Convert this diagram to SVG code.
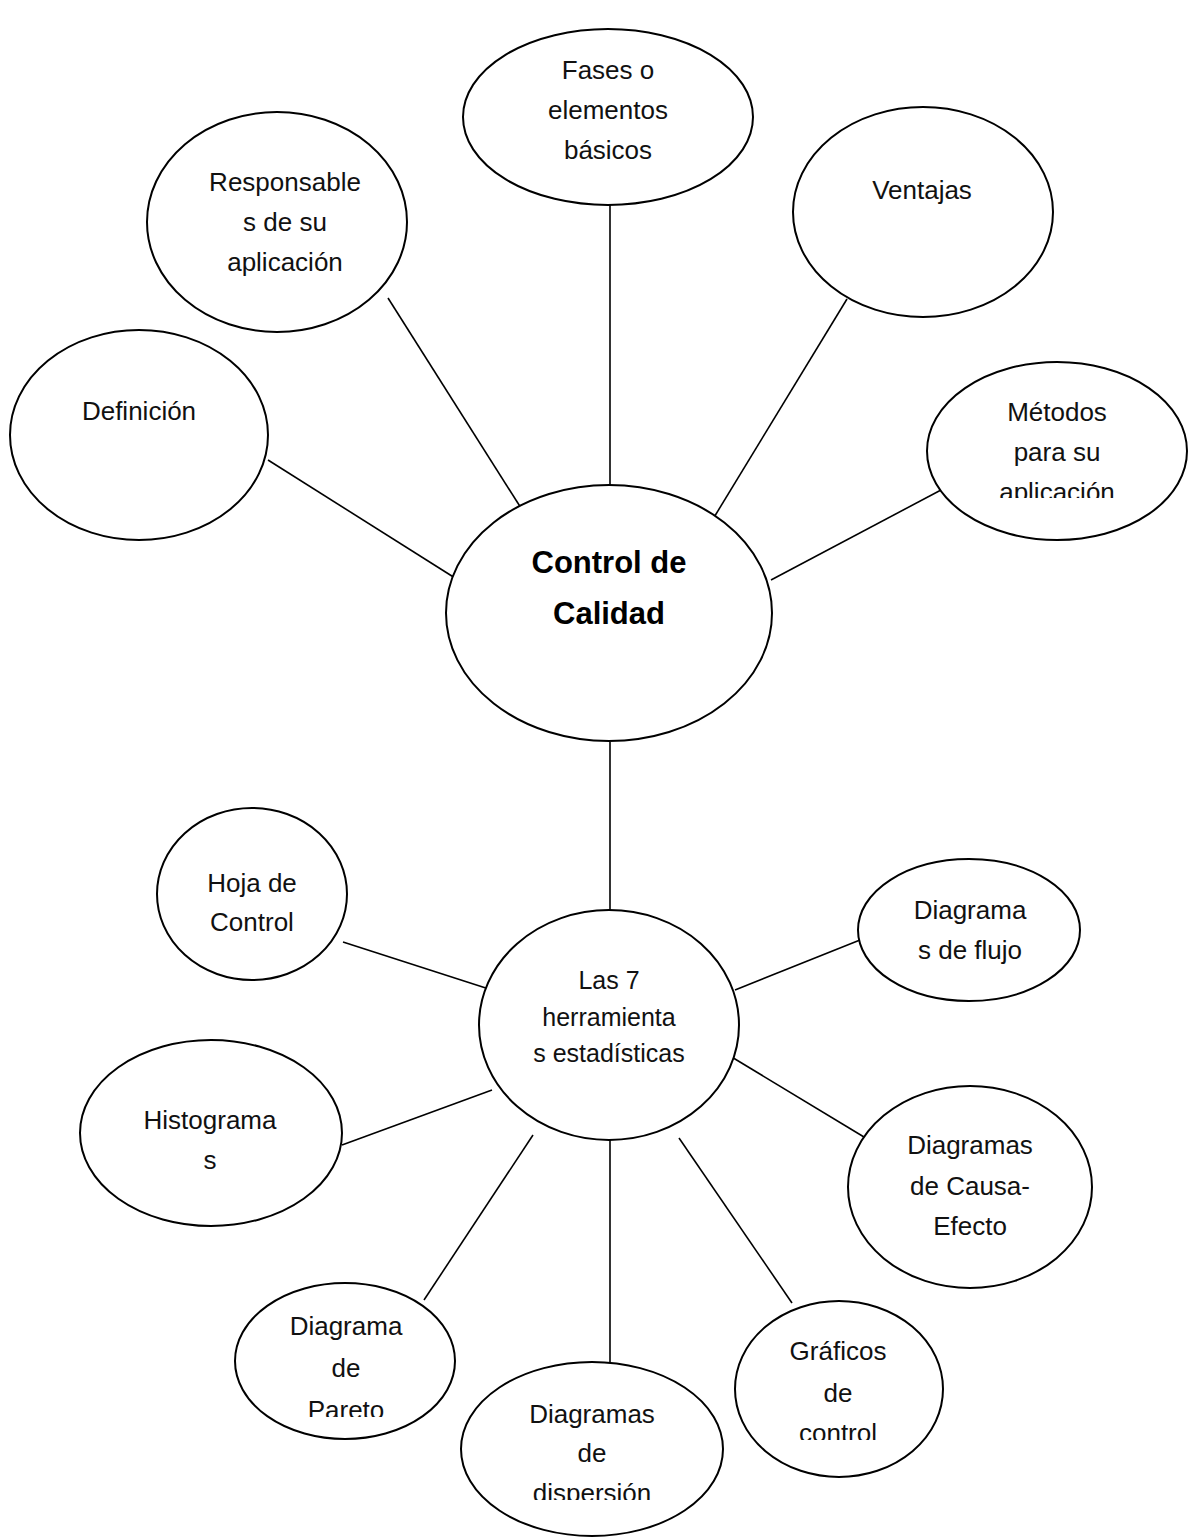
<svg xmlns="http://www.w3.org/2000/svg" width="1192" height="1537" viewBox="0 0 1192 1537">
<style>
  .n { fill: #fff; stroke: #000; stroke-width: 2; }
  .c { stroke: #000; stroke-width: 1.6; fill: none; }
  .t { font-family: "Liberation Sans", Arial, sans-serif; font-size: 26px; fill: #111; text-anchor: middle; }
  .s { font-size: 25px; }
  .b { font-family: "Liberation Sans", Arial, sans-serif; font-size: 31px; font-weight: bold; fill: #000; text-anchor: middle; }
</style>
<defs>
  <clipPath id="clipMet"><rect x="900" y="340" width="292" height="158"/></clipPath>
  <clipPath id="clipPar"><rect x="220" y="1270" width="260" height="147"/></clipPath>
  <clipPath id="clipDis"><rect x="450" y="1350" width="290" height="150"/></clipPath>
  <clipPath id="clipGra"><rect x="720" y="1290" width="240" height="150"/></clipPath>
</defs>
<rect width="1192" height="1537" fill="#fff"/>
<g id="connectors">
  <line class="c" x1="268" y1="460" x2="455" y2="578"/>
  <line class="c" x1="388" y1="298" x2="521" y2="508"/>
  <line class="c" x1="610" y1="205" x2="610" y2="493"/>
  <line class="c" x1="847" y1="299" x2="713" y2="519"/>
  <line class="c" x1="941" y1="490" x2="771" y2="580"/>
  <line class="c" x1="610" y1="742" x2="610" y2="917"/>
  <line class="c" x1="343" y1="942" x2="492" y2="990"/>
  <line class="c" x1="735" y1="990" x2="860" y2="940"/>
  <line class="c" x1="342" y1="1145" x2="492" y2="1090"/>
  <line class="c" x1="730" y1="1056" x2="864" y2="1137"/>
  <line class="c" x1="424" y1="1300" x2="533" y2="1135"/>
  <line class="c" x1="610" y1="1140" x2="610" y2="1387"/>
  <line class="c" x1="679" y1="1138" x2="792" y2="1303"/>
</g>
<g id="fases">
  <ellipse class="n" cx="608" cy="117" rx="145" ry="88"/>
  <text class="t" x="608" y="79">Fases o</text>
  <text class="t" x="608" y="119">elementos</text>
  <text class="t" x="608" y="159">básicos</text>
</g>
<g id="responsables">
  <ellipse class="n" cx="277" cy="222" rx="130" ry="110"/>
  <text class="t" x="285" y="191">Responsable</text>
  <text class="t" x="285" y="231">s de su</text>
  <text class="t" x="285" y="271">aplicación</text>
</g>
<g id="ventajas">
  <ellipse class="n" cx="923" cy="212" rx="130" ry="105"/>
  <text class="t" x="922" y="199">Ventajas</text>
</g>
<g id="definicion">
  <ellipse class="n" cx="139" cy="435" rx="129" ry="105"/>
  <text class="t" x="139" y="420">Definición</text>
</g>
<g id="metodos">
  <ellipse class="n" cx="1057" cy="451" rx="130" ry="89"/>
  <g clip-path="url(#clipMet)">
    <text class="t" x="1057" y="421">Métodos</text>
    <text class="t" x="1057" y="461">para su</text>
    <text class="t" x="1057" y="501">aplicación</text>
  </g>
</g>
<g id="control-calidad">
  <ellipse class="n" cx="609" cy="613" rx="163" ry="128"/>
  <text class="b" x="609" y="573">Control de</text>
  <text class="b" x="609" y="624">Calidad</text>
</g>
<g id="siete-herramientas">
  <ellipse class="n" cx="609" cy="1025" rx="130" ry="115"/>
  <text class="t s" x="609" y="989">Las 7</text>
  <text class="t s" x="609" y="1026">herramienta</text>
  <text class="t s" x="609" y="1062">s estadísticas</text>
</g>
<g id="hoja-control">
  <ellipse class="n" cx="252" cy="894" rx="95" ry="86"/>
  <text class="t" x="252" y="892">Hoja de</text>
  <text class="t" x="252" y="931">Control</text>
</g>
<g id="diagramas-flujo">
  <ellipse class="n" cx="969" cy="930" rx="111" ry="71"/>
  <text class="t" x="970" y="919">Diagrama</text>
  <text class="t" x="970" y="959">s de flujo</text>
</g>
<g id="histogramas">
  <ellipse class="n" cx="211" cy="1133" rx="131" ry="93"/>
  <text class="t" x="210" y="1129">Histograma</text>
  <text class="t" x="210" y="1169">s</text>
</g>
<g id="causa-efecto">
  <ellipse class="n" cx="970" cy="1187" rx="122" ry="101"/>
  <text class="t" x="970" y="1154">Diagramas</text>
  <text class="t" x="970" y="1195">de Causa-</text>
  <text class="t" x="970" y="1235">Efecto</text>
</g>
<g id="pareto">
  <ellipse class="n" cx="345" cy="1361" rx="110" ry="78"/>
  <g clip-path="url(#clipPar)">
    <text class="t" x="346" y="1335">Diagrama</text>
    <text class="t" x="346" y="1377">de</text>
    <text class="t" x="346" y="1419">Pareto</text>
  </g>
</g>
<g id="dispersion">
  <ellipse class="n" cx="592" cy="1449" rx="131" ry="87"/>
  <g clip-path="url(#clipDis)">
    <text class="t" x="592" y="1423">Diagramas</text>
    <text class="t" x="592" y="1462">de</text>
    <text class="t" x="592" y="1502">dispersión</text>
  </g>
</g>
<g id="graficos-control">
  <ellipse class="n" cx="839" cy="1389" rx="104" ry="88"/>
  <g clip-path="url(#clipGra)">
    <text class="t" x="838" y="1360">Gráficos</text>
    <text class="t" x="838" y="1402">de</text>
    <text class="t" x="838" y="1442">control</text>
  </g>
</g>
</svg>
